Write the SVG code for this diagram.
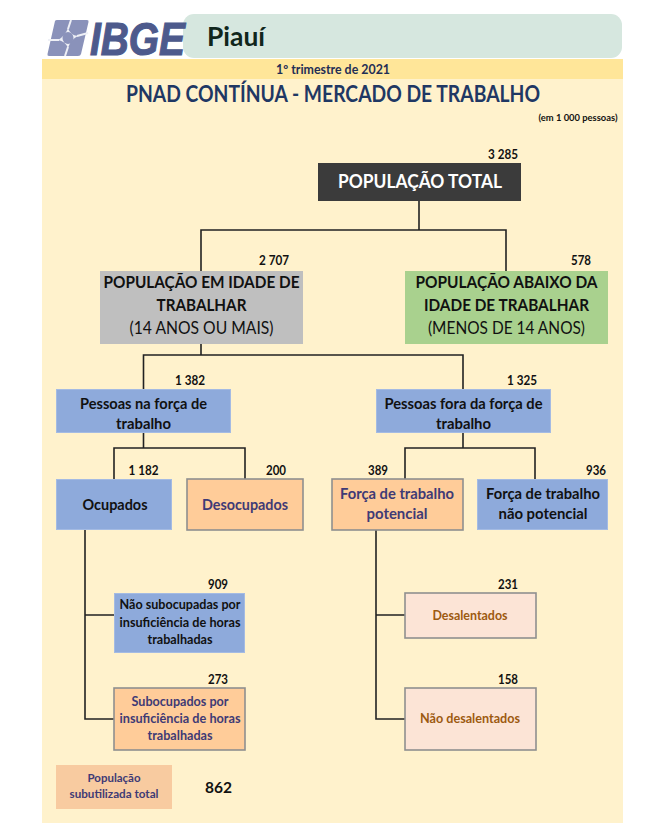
<svg xmlns="http://www.w3.org/2000/svg" width="667" height="838" viewBox="0 0 667 838">
<style>
text{font-family:"Lato","Liberation Sans",sans-serif;text-anchor:middle;font-weight:700;fill:#111}
.num{font-size:12.500px}
.blk{font-size:15px}
.pur{font-size:15px;fill:#403a75}
.brn{font-size:13.500px;fill:#9c5a10}
.big{font-size:17.500px}
.sm3{font-size:13px}
.boxb{fill:#8eaadb;stroke:#a4bbe3;stroke-width:1}
.boxo{fill:#ffcc99;stroke:#8f8f8f;stroke-width:1.6}
.boxp{fill:#fce4d6;stroke:#8f8f8f;stroke-width:1.6}
.c{fill:none;stroke:#222;stroke-width:1.6}
</style>
<rect width="667" height="838" fill="#fff"/>
<rect x="42" y="59" width="581" height="764" fill="#fff2cc"/>
<rect x="42" y="59" width="581" height="20" fill="#ffe699"/>
<rect x="183" y="14" width="439" height="44" rx="11" fill="#d6e7df"/>
<g id="logo">
<path d="M55 21Q55.500 20 57 20H87Q89 20 88.500 22L81 54Q80.500 56 78 56H49Q47 56 47.500 54Z" fill="#8a92ba"/>
<path d="M71 20L68 29M88 33L77 36M65 56L68 47M48 40L59 40" stroke="#eef0f6" stroke-width="2" fill="none"/>
<path d="M68 28Q70 35 78 36Q71 39 68 48Q65 41 58 40Q65 36 68 28Z" fill="#eef0f6"/>
<ellipse cx="68" cy="38" rx="5.500" ry="6" fill="#8a92ba"/>
<text x="137.500" y="55" style="font-family:'Liberation Sans',sans-serif;font-size:47px;font-style:italic;font-weight:700;fill:#4d5a8c;stroke:#4d5a8c;stroke-width:1.200" textLength="95" lengthAdjust="spacingAndGlyphs">IBGE</text>
</g>
<text x="236" y="46" style="font-size:26px;fill:#10261c" textLength="58" lengthAdjust="spacingAndGlyphs">Piauí</text>
<text x="333" y="74" style="font-size:12.500px;fill:#1f2f55" textLength="114" lengthAdjust="spacingAndGlyphs">1º trimestre de 2021</text>
<text x="333" y="102" style="font-size:22px;fill:#1f3864" textLength="414" lengthAdjust="spacingAndGlyphs">PNAD CONTÍNUA - MERCADO DE TRABALHO</text>
<text x="578" y="121" style="font-size:9.500px" textLength="79" lengthAdjust="spacingAndGlyphs">(em 1 000 pessoas)</text>
<g id="connectors">
<path class="c" d="M419 201V230M201 271V230H506V271"/>
<path class="c" d="M201 344V355M143.500 389V355H463V389"/>
<path class="c" d="M143.500 433V448M114 479V448H245V479"/>
<path class="c" d="M463 433V448M405 479V448H535V479"/>
<path class="c" d="M85 530V719H114M85 615H114"/>
<path class="c" d="M376 530V719H405M376 615H405"/>
</g>
<g id="n-total"><rect x="318" y="163" width="203" height="38" fill="#3b3b3b"/><text x="420" y="188" style="font-size:19px;fill:#fff" textLength="164" lengthAdjust="spacingAndGlyphs">POPULAÇÃO TOTAL</text><text class="num" x="503" y="158.500" textLength="30" lengthAdjust="spacingAndGlyphs">3 285</text></g>
<g id="n-idade"><rect x="100" y="271" width="203" height="73" fill="#bfbfbf"/><text class="big" x="201.500" y="288" textLength="196" lengthAdjust="spacingAndGlyphs">POPULAÇÃO EM IDADE DE</text><text class="big" x="201.500" y="311" textLength="90" lengthAdjust="spacingAndGlyphs">TRABALHAR</text><text class="big" x="201.500" y="333.500" style="font-weight:400" textLength="144" lengthAdjust="spacingAndGlyphs">(14 ANOS OU MAIS)</text><text class="num" x="274" y="265" textLength="30" lengthAdjust="spacingAndGlyphs">2 707</text></g>
<g id="n-abaixo"><rect x="405" y="271" width="203" height="73" fill="#a9d18e"/><text class="big" x="506.500" y="288" textLength="182" lengthAdjust="spacingAndGlyphs">POPULAÇÃO ABAIXO DA</text><text class="big" x="506.500" y="311" textLength="165" lengthAdjust="spacingAndGlyphs">IDADE DE TRABALHAR</text><text class="big" x="506.500" y="333.500" style="font-weight:400" textLength="157" lengthAdjust="spacingAndGlyphs">(MENOS DE 14 ANOS)</text><text class="num" x="581" y="265" textLength="20" lengthAdjust="spacingAndGlyphs">578</text></g>
<g id="n-forca"><rect class="boxb" x="56.500" y="389.500" width="174" height="43"/><text class="blk" x="143.500" y="409" textLength="127" lengthAdjust="spacingAndGlyphs">Pessoas na força de</text><text class="blk" x="143.500" y="429" textLength="55" lengthAdjust="spacingAndGlyphs">trabalho</text><text class="num" x="190" y="385" textLength="30" lengthAdjust="spacingAndGlyphs">1 382</text></g>
<g id="n-fora"><rect class="boxb" x="376.500" y="389.500" width="174" height="43"/><text class="blk" x="463.500" y="409" textLength="158" lengthAdjust="spacingAndGlyphs">Pessoas fora da força de</text><text class="blk" x="463.500" y="429" textLength="55" lengthAdjust="spacingAndGlyphs">trabalho</text><text class="num" x="522" y="385" textLength="30" lengthAdjust="spacingAndGlyphs">1 325</text></g>
<g id="n-ocupados"><rect class="boxb" x="56.500" y="479.500" width="115" height="50"/><text class="blk" x="115" y="509.500" textLength="65" lengthAdjust="spacingAndGlyphs">Ocupados</text><text class="num" x="143.500" y="475" textLength="30" lengthAdjust="spacingAndGlyphs">1 182</text></g>
<g id="n-desocupados"><rect class="boxo" x="187" y="479" width="116" height="51"/><text class="pur" x="245" y="509.500" textLength="86" lengthAdjust="spacingAndGlyphs">Desocupados</text><text class="num" x="276" y="475" textLength="20" lengthAdjust="spacingAndGlyphs">200</text></g>
<g id="n-potencial"><rect class="boxo" x="332" y="479" width="131" height="51"/><text class="pur" x="397" y="499" textLength="114" lengthAdjust="spacingAndGlyphs">Força de trabalho</text><text class="pur" x="397" y="519" textLength="61" lengthAdjust="spacingAndGlyphs">potencial</text><text class="num" x="378" y="475" textLength="20" lengthAdjust="spacingAndGlyphs">389</text></g>
<g id="n-naopotencial"><rect class="boxb" x="477.500" y="479.500" width="130" height="50"/><text class="blk" x="543" y="499" textLength="114" lengthAdjust="spacingAndGlyphs">Força de trabalho</text><text class="blk" x="543" y="519" textLength="89" lengthAdjust="spacingAndGlyphs">não potencial</text><text class="num" x="596" y="475" textLength="20" lengthAdjust="spacingAndGlyphs">936</text></g>
<g id="n-naosub"><rect class="boxb" x="114.500" y="593.500" width="130" height="59"/><text class="sm3" x="180" y="609" textLength="121" lengthAdjust="spacingAndGlyphs">Não subocupadas por</text><text class="sm3" x="180" y="627" textLength="121" lengthAdjust="spacingAndGlyphs">insuficiência de horas</text><text class="sm3" x="180" y="644" textLength="65" lengthAdjust="spacingAndGlyphs">trabalhadas</text><text class="num" x="218" y="589" textLength="20" lengthAdjust="spacingAndGlyphs">909</text></g>
<g id="n-sub"><rect class="boxo" x="114" y="688" width="131" height="62"/><text class="sm3" style="fill:#403a75" x="180" y="706" textLength="97" lengthAdjust="spacingAndGlyphs">Subocupados por</text><text class="sm3" style="fill:#403a75" x="180" y="723" textLength="121" lengthAdjust="spacingAndGlyphs">insuficiência de horas</text><text class="sm3" style="fill:#403a75" x="180" y="740" textLength="65" lengthAdjust="spacingAndGlyphs">trabalhadas</text><text class="num" x="218" y="684" textLength="20" lengthAdjust="spacingAndGlyphs">273</text></g>
<g id="n-desalentados"><rect class="boxp" x="405" y="593" width="131" height="45"/><text class="brn" x="470" y="620" textLength="75" lengthAdjust="spacingAndGlyphs">Desalentados</text><text class="num" x="508" y="589" textLength="20" lengthAdjust="spacingAndGlyphs">231</text></g>
<g id="n-naodesal"><rect class="boxp" x="405" y="688" width="131" height="62"/><text class="brn" x="470" y="723" textLength="100" lengthAdjust="spacingAndGlyphs">Não desalentados</text><text class="num" x="508" y="684" textLength="20" lengthAdjust="spacingAndGlyphs">158</text></g>
<g id="n-subutil"><rect x="56" y="765" width="116" height="44" fill="#f8cba0"/><text x="114" y="782" style="font-size:11px;fill:#403a75" textLength="53" lengthAdjust="spacingAndGlyphs">População</text><text x="114" y="798" style="font-size:11px;fill:#403a75" textLength="89" lengthAdjust="spacingAndGlyphs">subutilizada total</text><text x="218.500" y="792.500" style="font-size:16px" textLength="27" lengthAdjust="spacingAndGlyphs">862</text></g>
</svg>
